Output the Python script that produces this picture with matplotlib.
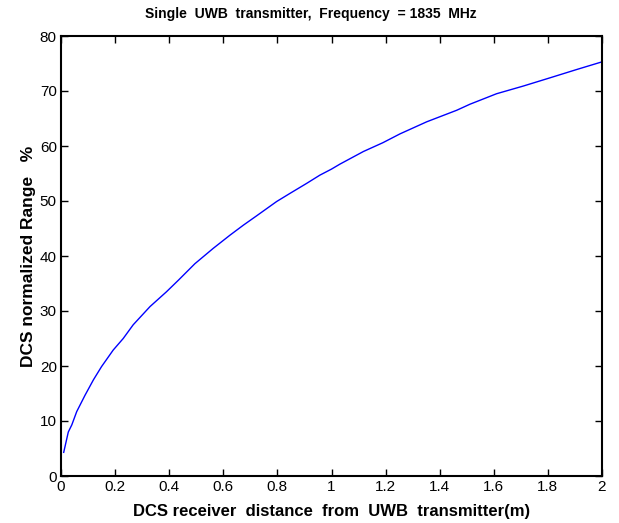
import matplotlib
matplotlib.use("Agg")
import matplotlib.pyplot as plt

distance_m = [0.01, 0.027, 0.04, 0.058, 0.089, 0.12, 0.15, 0.193, 0.23, 0.267,
              0.329, 0.39, 0.434, 0.495, 0.563, 0.625, 0.674, 0.723, 0.797, 0.847,
              0.908, 0.957, 1.0, 1.031, 1.118, 1.19, 1.253, 1.352, 1.463, 1.512,
              1.574, 1.61, 1.709, 1.808, 1.906, 2.0]
range_pct = [4.3, 8.0, 9.3, 11.7, 14.7, 17.5, 19.9, 22.9, 25.0, 27.5,
             30.8, 33.5, 35.6, 38.6, 41.4, 43.8, 45.6, 47.3, 49.9, 51.4,
             53.2, 54.7, 55.8, 56.7, 59.0, 60.6, 62.2, 64.4, 66.5, 67.6,
             68.8, 69.5, 70.9, 72.4, 73.9, 75.3]
x_ticks = [0, 0.2, 0.4, 0.6, 0.8, 1, 1.2, 1.4, 1.6, 1.8, 2]
x_tick_labels = ["0", "0.2", "0.4", "0.6", "0.8", "1", "1.2", "1.4", "1.6", "1.8", "2"]
y_ticks = [0, 10, 20, 30, 40, 50, 60, 70, 80]

plt.rcParams['font.family'] = ['Liberation Sans', 'DejaVu Sans']

fig = plt.figure(figsize=(6.19, 5.23), dpi=100)
ax = fig.add_axes([61/619, 47/523, 541/619, 440/523])
ax.plot(distance_m, range_pct, color='#0000ff', linewidth=1.0)
ax.set_xlim(0, 2)
ax.set_ylim(0, 80)
ax.set_xticks(x_ticks)
ax.set_xticklabels(x_tick_labels)
ax.set_yticks(y_ticks)
ax.tick_params(direction='in', length=5, width=1, labelsize=11, top=True, right=True, pad=3)
for s in ax.spines.values():
    s.set_linewidth(1.5)
ax.set_title("Single  UWB  transmitter,  Frequency  = 1835  MHz", fontsize=10, fontweight='bold', pad=13, x=0.462)
ax.set_xlabel("DCS receiver  distance  from  UWB  transmitter(m)", fontsize=12, fontweight='bold', labelpad=7)
ax.set_ylabel("DCS normalized Range   %", fontsize=12.5, fontweight='bold', labelpad=3)
fig.savefig("out.png", dpi=100)
